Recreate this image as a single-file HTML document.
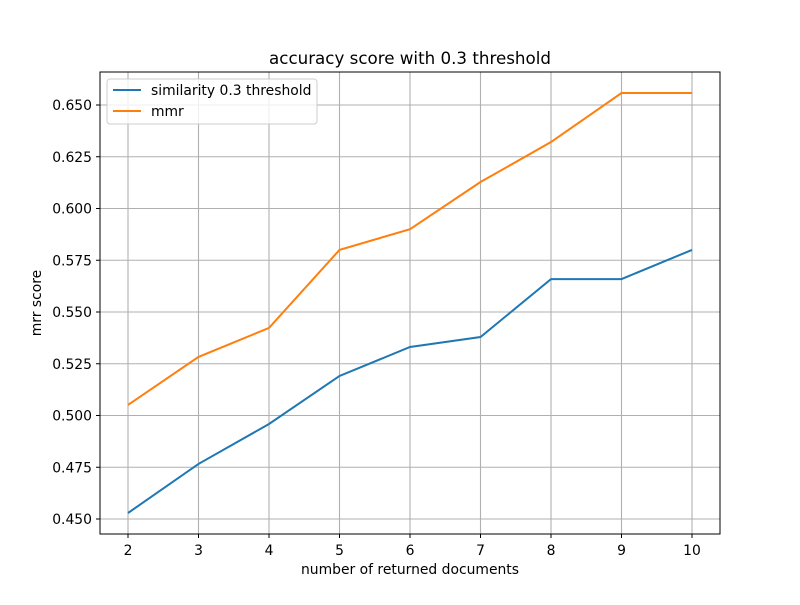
<!DOCTYPE html>
<html><head><meta charset="utf-8"><style>
body{margin:0;background:#fff;}
svg text{font-family:"DejaVu Sans","Liberation Sans",sans-serif;fill:#000;}
</style></head><body>
<svg id="chart" width="800" height="600" xmlns="http://www.w3.org/2000/svg">
<rect width="800" height="600" fill="#fff"/>
<text x="410" y="64" font-size="16.7" text-anchor="middle">accuracy score with 0.3 threshold</text>
<g id="grid"></g><g id="ticks"></g><g id="lines"></g>
<rect x="100" y="72" width="620" height="462" fill="none" stroke="#000" stroke-width="1"/>
<text x="410" y="574" font-size="13.9" text-anchor="middle">number of returned documents</text>
<text transform="translate(41,303) rotate(-90)" font-size="13.9" text-anchor="middle">mrr score</text>
<g>
<rect x="107" y="79" width="210" height="45" rx="3" fill="#fff" fill-opacity="0.8" stroke="#ccc"/>
<line x1="113" y1="90" x2="141" y2="90" stroke="#1f77b4" stroke-width="2"/>
<text x="151" y="95" font-size="13.9">similarity 0.3 threshold</text>
<line x1="113" y1="111" x2="141" y2="111" stroke="#ff7f0e" stroke-width="2"/>
<text x="151" y="116" font-size="13.9">mmr</text>
</g>
</svg>
<script>
const categories=[2,3,4,5,6,7,8,9,10];
const similarityValues=[0.4529,0.4766,0.4959,0.5191,0.5331,0.5379,0.5659,0.5659,0.580];
const mmrValues=[0.5051,0.5283,0.5423,0.580,0.590,0.6128,0.6321,0.6558,0.6558];
const yTicks=[0.450,0.475,0.500,0.525,0.550,0.575,0.600,0.625,0.650];
const NS="http://www.w3.org/2000/svg";
function xs(v){return 128+(v-2)*70.5;}
function ys(v){return 519-(v-0.45)*2070;}
function mk(tag,attrs,parent){const e=document.createElementNS(NS,tag);for(const k in attrs)e.setAttribute(k,attrs[k]);document.getElementById(parent).appendChild(e);return e;}
categories.forEach(c=>{
  const g=mk('line',{x1:xs(c),x2:xs(c),y1:72,y2:534,stroke:'#b0b0b0','stroke-width':1.1},'grid');
  
  
  const t=mk('line',{x1:xs(c),x2:xs(c),y1:534,y2:538,stroke:'#000'},'ticks');
  
  
  const l=mk('text',{x:xs(c),y:555,'font-size':13.9,'text-anchor':'middle'},'ticks');
  l.textContent=c;
  
  
});
yTicks.forEach(v=>{
  const g=mk('line',{x1:100,x2:720,y1:ys(v),y2:ys(v),stroke:'#b0b0b0','stroke-width':1.1},'grid');
  
  
  const t=mk('line',{x1:96,x2:100,y1:ys(v),y2:ys(v),stroke:'#000'},'ticks');
  
  
  const l=mk('text',{x:92,y:ys(v)+5,'font-size':13.9,'text-anchor':'end'},'ticks');
  l.textContent=v.toFixed(3);
  
  
});
function series(vals,color,name){
  const p=mk('polyline',{points:vals.map((v,i)=>xs(categories[i])+','+ys(v)).join(' '),fill:'none',stroke:color,'stroke-width':2},'lines');
  
  
}
series(similarityValues,'#1f77b4','similarity-line');
series(mmrValues,'#ff7f0e','mmr-line');
</script>
</body></html>
